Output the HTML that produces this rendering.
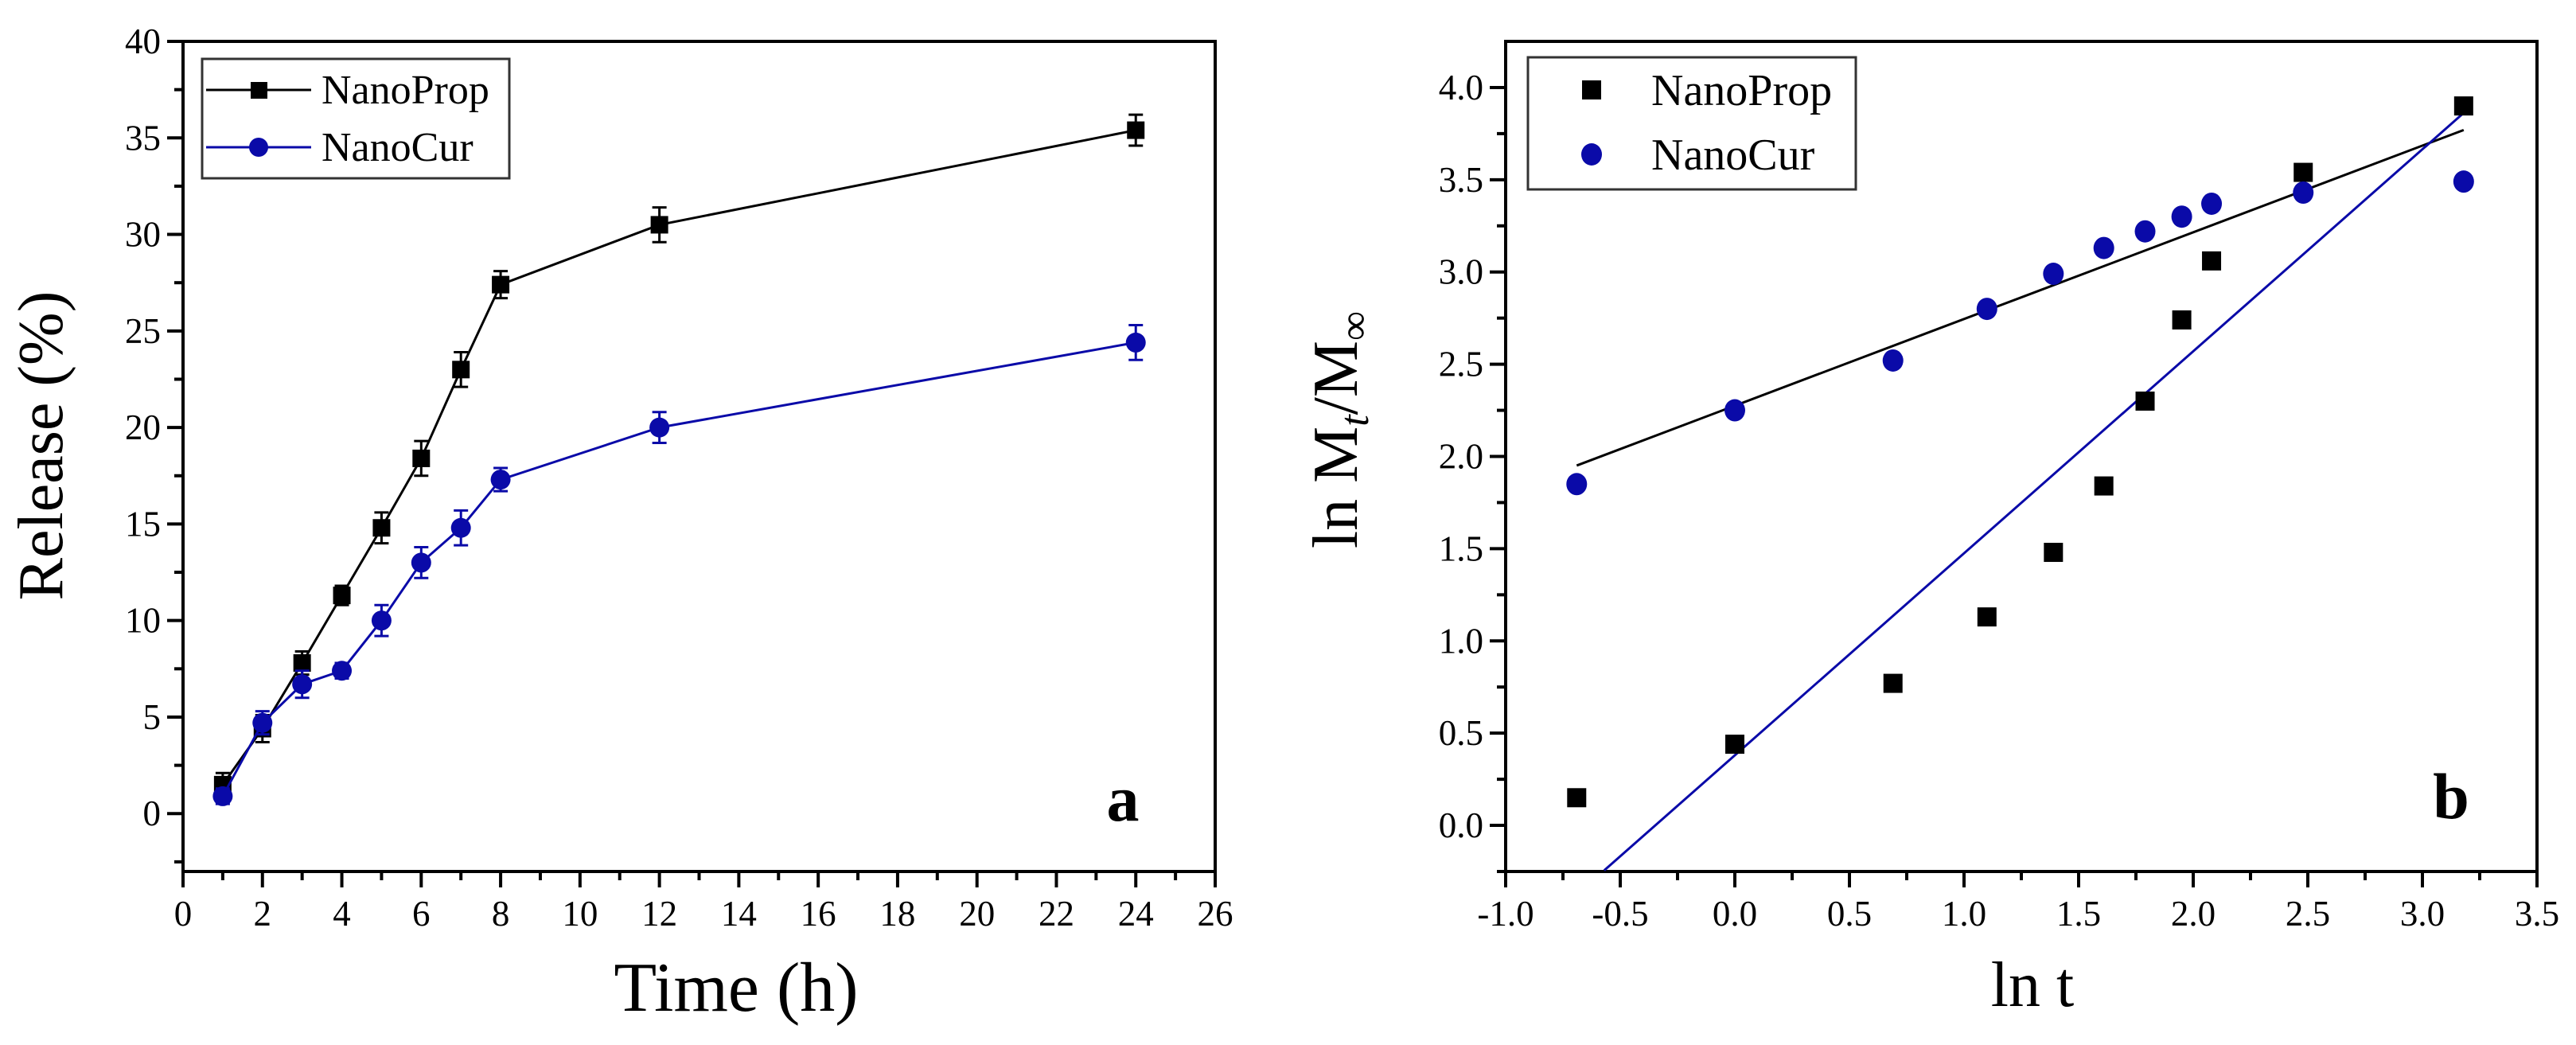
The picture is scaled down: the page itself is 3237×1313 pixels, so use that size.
<!DOCTYPE html>
<html><head><meta charset="utf-8"><style>
html,body{margin:0;padding:0;background:#fff;}
svg{display:block;font-family:"Liberation Serif",serif;}
</style></head><body>
<svg id="fig" width="3237" height="1313" viewBox="0 0 3237 1313"></svg>
<script>
// ---- Panel a data ----
const timeH = [1,2,3,4,5,6,7,8,12,24];
const propRelease = [1.5,4.4,7.8,11.3,14.8,18.4,23.0,27.4,30.5,35.4];
const propErr = [0.6,0.7,0.6,0.5,0.8,0.9,0.9,0.7,0.9,0.8];
const curRelease = [0.9,4.7,6.7,7.4,10.0,13.0,14.8,17.3,20.0,24.4];
const curErr = [0.4,0.6,0.7,0.4,0.8,0.8,0.9,0.6,0.8,0.9];
const aXTicks = [0,2,4,6,8,10,12,14,16,18,20,22,24,26];
const aYTicks = [0,5,10,15,20,25,30,35,40];
// ---- Panel b data ----
const lnT = [-0.69,0,0.69,1.10,1.39,1.61,1.79,1.95,2.08,2.48,3.18];
const propLn = [0.15,0.44,0.77,1.13,1.48,1.84,2.30,2.74,3.06,3.54,3.90];
const curLn = [1.85,2.25,2.52,2.80,2.99,3.13,3.22,3.30,3.37,3.43,3.49];
const curFit = [2.275,0.47]; // intercept, slope (black line)
const curFitRange = [-0.69,3.18];
const propFit = [0.38,1.095]; // intercept, slope (blue line)
const propFitRange = [-0.57,3.18];
const bXTicks = [-1.0,-0.5,0.0,0.5,1.0,1.5,2.0,2.5,3.0,3.5];
const bYTicks = [0.0,0.5,1.0,1.5,2.0,2.5,3.0,3.5,4.0];

const NS="http://www.w3.org/2000/svg";
const svg=document.getElementById('fig');
function el(tag,attrs,parent){const e=document.createElementNS(NS,tag);for(const k in attrs)e.setAttribute(k,attrs[k]);(parent||svg).appendChild(e);return e;}
const BLUE="#0a0aa8";

function panel(P){
  const g=el('g',{});
  
  
  const sx=v=>P.x0+(v-P.xmin)/(P.xmax-P.xmin)*(P.x1-P.x0);
  const sy=v=>P.y1-(v-P.ymin)/(P.ymax-P.ymin)*(P.y1-P.y0);
  const frame=el('rect',{x:P.x0,y:P.y0,width:P.x1-P.x0,height:P.y1-P.y0,fill:'none',stroke:'#000','stroke-width':4},g);
  
  
  P.xt.forEach((v,i)=>{
    const x=sx(v);
    el('line',{x1:x,y1:P.y1,x2:x,y2:P.y1+20,stroke:'#000','stroke-width':4},g);
    if(i<P.xt.length-1){const xm=sx(v+P.xminor);el('line',{x1:xm,y1:P.y1,x2:xm,y2:P.y1+11,stroke:'#000','stroke-width':4},g);}
    const t=el('text',{x:x,y:P.y1+68,'font-size':45,'text-anchor':'middle'},g);
    t.textContent=P.xfmt(v);
    
    
  });
  P.yt.forEach((v,i)=>{
    const y=sy(v);
    el('line',{x1:P.x0,y1:y,x2:P.x0-20,y2:y,stroke:'#000','stroke-width':4},g);
    const t=el('text',{x:P.x0-28,y:y+15,'font-size':45,'text-anchor':'end'},g);
    t.textContent=P.yfmt(v);
    
    
  });
  for(let v=P.yt[0]-P.yminor;v<P.ymax;v+=P.yminor*2){
    if(v<P.ymin)continue;
    const y=sy(v);el('line',{x1:P.x0,y1:y,x2:P.x0-11,y2:y,stroke:'#000','stroke-width':4},g);
  }
  return {g,sx,sy};
}

// ===== Panel a =====
const A=panel({name:'panel-a',x0:230,x1:1527,y0:52,y1:1095,xmin:0,xmax:26,ymin:-3,ymax:40,xt:aXTicks,yt:aYTicks,xminor:1,yminor:2.5,xfmt:v=>String(v),yfmt:v=>String(v)});
function seriesA(xs,ys,es,color,shape,name){
  const g=el('g',{},A.g);
  
  
  el('polyline',{points:xs.map((x,i)=>A.sx(x)+','+A.sy(ys[i])).join(' '),fill:'none',stroke:color,'stroke-width':3},g);
  xs.forEach((x,i)=>{
    const px=A.sx(x),py=A.sy(ys[i]),t=A.sy(ys[i]+es[i]),b=A.sy(ys[i]-es[i]);
    el('line',{x1:px,y1:t,x2:px,y2:b,stroke:color,'stroke-width':3},g);
    el('line',{x1:px-9,y1:t,x2:px+9,y2:t,stroke:color,'stroke-width':3},g);
    el('line',{x1:px-9,y1:b,x2:px+9,y2:b,stroke:color,'stroke-width':3},g);
    let m;
    if(shape==='sq')m=el('rect',{x:px-11,y:py-11,width:22,height:22,fill:color},g);
    else m=el('circle',{cx:px,cy:py,r:12.5,fill:color},g);
    
    
  });
}
seriesA(timeH,propRelease,propErr,'#000','sq','series-nanoprop');
seriesA(timeH,curRelease,curErr,BLUE,'ci','series-nanocur');
(function(){
  const g=el('g',{},A.g);
  
  
  el('rect',{x:254,y:74,width:386,height:150,fill:'#fff',stroke:'#333','stroke-width':3},g);
  el('line',{x1:259,y1:113,x2:391,y2:113,stroke:'#000','stroke-width':3},g);
  el('rect',{x:315,y:103,width:21,height:21,fill:'#000'},g);
  el('line',{x1:259,y1:185,x2:391,y2:185,stroke:BLUE,'stroke-width':3},g);
  el('circle',{cx:325,cy:185,r:12,fill:BLUE},g);
  const t1=el('text',{x:404,y:130,'font-size':52},g);t1.textContent='NanoProp';
  
  const t2=el('text',{x:404,y:202,'font-size':52},g);t2.textContent='NanoCur';
  
})();
let t=el('text',{x:1411,y:1031,'font-size':82,'font-weight':'bold','text-anchor':'middle'});t.textContent='a';

t=el('text',{x:925,y:1270,'font-size':88,'text-anchor':'middle'});t.textContent='Time (h)';

t=el('text',{x:0,y:0,'font-size':80,'text-anchor':'middle',transform:'translate(78,560) rotate(-90)'});t.textContent='Release (%)';


// ===== Panel b =====
const B=panel({name:'panel-b',x0:1892,x1:3188,y0:52,y1:1095,xmin:-1,xmax:3.5,ymin:-0.25,ymax:4.25,xt:bXTicks,yt:bYTicks,xminor:0.25,yminor:0.25,xfmt:v=>v.toFixed(1),yfmt:v=>v.toFixed(1)});
(function(){
  let l=el('line',{x1:B.sx(curFitRange[0]),y1:B.sy(curFit[0]+curFit[1]*curFitRange[0]),x2:B.sx(curFitRange[1]),y2:B.sy(curFit[0]+curFit[1]*curFitRange[1]),stroke:'#000','stroke-width':3},B.g);
  
  l=el('line',{x1:B.sx(propFitRange[0]),y1:B.sy(propFit[0]+propFit[1]*propFitRange[0]),x2:B.sx(propFitRange[1]),y2:B.sy(propFit[0]+propFit[1]*propFitRange[1]),stroke:BLUE,'stroke-width':3},B.g);
  
  lnT.forEach((x,i)=>{
    const m=el('rect',{x:B.sx(x)-12,y:B.sy(propLn[i])-12,width:24,height:24,fill:'#000'},B.g);
    
    const c=el('ellipse',{cx:B.sx(x),cy:B.sy(curLn[i]),rx:13,ry:14,fill:BLUE},B.g);
    
  });
  const g=el('g',{},B.g);
  
  
  el('rect',{x:1920,y:72,width:412,height:166,fill:'#fff',stroke:'#333','stroke-width':3},g);
  el('rect',{x:1988,y:101,width:24,height:24,fill:'#000'},g);
  el('ellipse',{cx:2000,cy:194,rx:13,ry:14,fill:BLUE},g);
  const t1=el('text',{x:2075,y:132,'font-size':56},g);t1.textContent='NanoProp';
  
  const t2=el('text',{x:2075,y:213,'font-size':56},g);t2.textContent='NanoCur';
  
})();
t=el('text',{x:3080,y:1028,'font-size':82,'font-weight':'bold','text-anchor':'middle'});t.textContent='b';

t=el('text',{x:2554,y:1264,'font-size':80,'text-anchor':'middle'});t.textContent='ln t';

t=el('text',{x:0,y:0,'font-size':80,'text-anchor':'middle',transform:'translate(1705,540) rotate(-90)'});
t.innerHTML='ln M<tspan font-size="52" font-style="italic" dy="14">t</tspan><tspan dy="-14">/M</tspan><tspan font-size="52" dy="14">∞</tspan>';

</script>
</body></html>
